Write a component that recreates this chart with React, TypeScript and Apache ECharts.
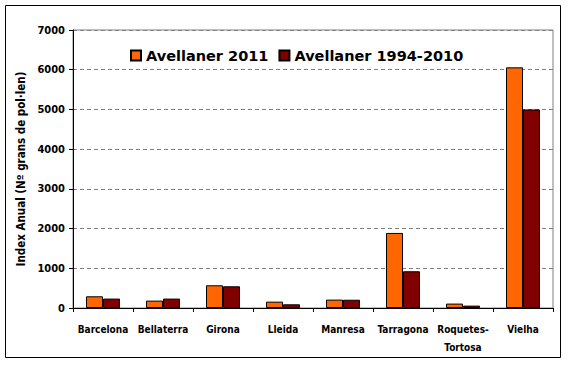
import React, { useEffect, useRef } from "react";
import * as echarts from "echarts";

const categories = ["Barcelona", "Bellaterra", "Girona", "Lleida", "Manresa", "Tarragona", "Roquetes-\nTortosa", "Vielha"];
const series2011 = [295, 186, 572, 160, 211, 1890, 111, 6060];
const series1994 = [237, 237, 547, 93, 208, 925, 60, 5000];
const seriesNames = ["Avellaner 2011", "Avellaner 1994-2010"];
const yTicks = { min: 0, max: 7000, interval: 1000 };

const FONT = "'DejaVu Sans Condensed', 'DejaVu Sans', sans-serif";

export default function App() {
  const ref = useRef<HTMLDivElement>(null);
  useEffect(() => {
    const chart = echarts.init(ref.current!, null, { renderer: "svg" });
    chart.setOption({
      animation: false,
      backgroundColor: "#ffffff",
      grid: {
        left: 73,
        right: 15,
        top: 30,
        bottom: 57,
        show: true,
        borderColor: "#808080",
        borderWidth: 1,
        backgroundColor: "transparent",
      },
      legend: {
        left: 125,
        top: 43,
        itemWidth: 10,
        itemHeight: 10,
        itemGap: 10,
        icon: "rect",
        textStyle: { fontFamily: "'DejaVu Sans', sans-serif", fontWeight: "bold", fontSize: 14.5, color: "#000" },
        data: seriesNames,
      },
      xAxis: {
        type: "category",
        data: categories,
        axisLine: { lineStyle: { color: "#000", width: 1 } },
        axisTick: { show: true, alignWithLabel: false, length: 4, lineStyle: { color: "#000" } },
        axisLabel: {
          fontFamily: FONT,
          fontWeight: "bold",
          fontSize: 10,
          color: "#000",
          margin: 12,
          lineHeight: 18,
          interval: 0,
        },
      },
      yAxis: {
        type: "value",
        min: yTicks.min,
        max: yTicks.max,
        interval: yTicks.interval,
        name: "Index Anual (Nº grans de pol·len)",
        nameLocation: "middle",
        nameGap: 45,
        nameRotate: 90,
        nameTextStyle: { fontFamily: FONT, fontWeight: "bold", fontSize: 11.5, color: "#000" },
        axisLine: { show: true, lineStyle: { color: "#000", width: 1 } },
        axisTick: { show: true, length: 4, lineStyle: { color: "#000" } },
        axisLabel: {
          fontFamily: FONT,
          fontWeight: "bold",
          fontSize: 11,
          color: "#000",
          margin: 8,
          formatter: (v: number) => String(v),
        },
        splitLine: { show: true, lineStyle: { color: "#808080", type: [4, 3], width: 1 } },
      },
      series: [
        {
          name: seriesNames[0],
          type: "bar",
          data: series2011,
          barWidth: 17,
          barGap: "0%",
          itemStyle: { color: "#FF6600", borderColor: "#000", borderWidth: 1 },
        },
        {
          name: seriesNames[1],
          type: "bar",
          data: series1994,
          barWidth: 17,
          barGap: "0%",
          itemStyle: { color: "#800000", borderColor: "#000", borderWidth: 1 },
        },
      ],
      graphic: [
        {
          type: "rect",
          shape: { x: 5.5, y: 5.5, width: 555, height: 352 },
          style: { fill: "none", stroke: "#000", lineWidth: 1 },
          silent: true,
        },
      ],
    });
    return () => chart.dispose();
  }, []);
  return <div ref={ref} style={{ position: "fixed", left: 0, top: 0, width: 568, height: 365 }} />;
}
